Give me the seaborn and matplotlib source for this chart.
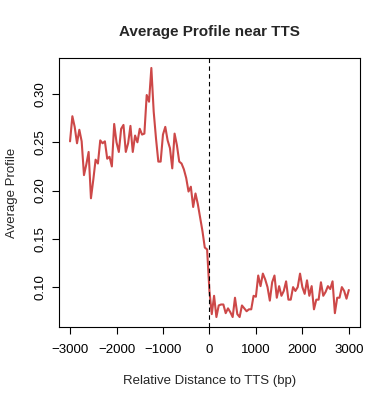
import numpy as np
import pandas as pd
import matplotlib
matplotlib.use("Agg")
import matplotlib.pyplot as plt
import seaborn as sns

# distance to TTS (bp), 50 bp bins
distance = np.arange(-3000, 3001, 50)

# average profile upstream of TTS (-3000 .. -50) and at/after TTS (0 .. 3000)
upstream = [
    0.251, 0.277, 0.266, 0.249, 0.263, 0.251, 0.216, 0.227, 0.240, 0.192,
    0.211, 0.232, 0.228, 0.252, 0.249, 0.251, 0.233, 0.235, 0.225, 0.269,
    0.250, 0.240, 0.264, 0.268, 0.240, 0.249, 0.267, 0.240, 0.257, 0.250,
    0.264, 0.258, 0.259, 0.299, 0.292, 0.327, 0.282, 0.254, 0.230, 0.230,
    0.258, 0.266, 0.252, 0.244, 0.223, 0.259, 0.247, 0.230, 0.228, 0.222,
    0.213, 0.199, 0.204, 0.183, 0.197, 0.186, 0.172, 0.158, 0.141, 0.139,
]
downstream = [
    0.096,
    0.072, 0.091, 0.069, 0.081, 0.082, 0.082, 0.073, 0.078, 0.074, 0.069,
    0.089, 0.072, 0.069, 0.081, 0.078, 0.075, 0.077, 0.077, 0.091, 0.090,
    0.112, 0.101, 0.114, 0.108, 0.100, 0.086, 0.105, 0.112, 0.089, 0.101,
    0.091, 0.096, 0.106, 0.087, 0.087, 0.100, 0.096, 0.100, 0.114, 0.100,
    0.093, 0.107, 0.091, 0.101, 0.077, 0.087, 0.087, 0.105, 0.091, 0.095,
    0.101, 0.098, 0.106, 0.073, 0.089, 0.089, 0.100, 0.096, 0.088, 0.097,
]

df = pd.DataFrame({"distance": distance, "profile": upstream + downstream})

sns.set_style("ticks")
plt.rcParams["font.family"] = ["Liberation Sans", "DejaVu Sans"]

fig = plt.figure(figsize=(3.9, 4.0), dpi=100)
ax = fig.add_axes([0.151, 0.1825, 0.772, 0.6725])

sns.lineplot(data=df, x="distance", y="profile", ax=ax,
             color="#CD4848", linewidth=1.5)
ax.axvline(0, color="black", linestyle=(0, (4, 3)), linewidth=0.8)

# R-style 4% padding
xmin, xmax = distance.min(), distance.max()
ymin, ymax = df["profile"].min(), df["profile"].max()
ax.set_xlim(xmin - 0.04 * (xmax - xmin), xmax + 0.04 * (xmax - xmin))
ax.set_ylim(ymin - 0.04 * (ymax - ymin), ymax + 0.04 * (ymax - ymin))

ax.set_xticks([-3000, -2000, -1000, 0, 1000, 2000, 3000])
ax.set_yticks([0.10, 0.15, 0.20, 0.25, 0.30])
ax.set_yticklabels(["0.10", "0.15", "0.20", "0.25", "0.30"],
                   rotation=90, va="center")
ax.tick_params(direction="out", length=5, width=0.8, labelsize=9.5,
               color="black", labelcolor="black", pad=4)
ax.tick_params(axis="x", pad=7)

for s in ax.spines.values():
    s.set_visible(True)
    s.set_color("black")
    s.set_linewidth(0.8)

ax.set_xlabel("Relative Distance to TTS (bp)", fontsize=9.5, labelpad=14)
ax.set_ylabel("Average Profile", fontsize=9.5, labelpad=12)
ax.set_title("Average Profile near TTS", fontsize=11, fontweight="bold", pad=16)

fig.savefig("out.png", dpi=100)
